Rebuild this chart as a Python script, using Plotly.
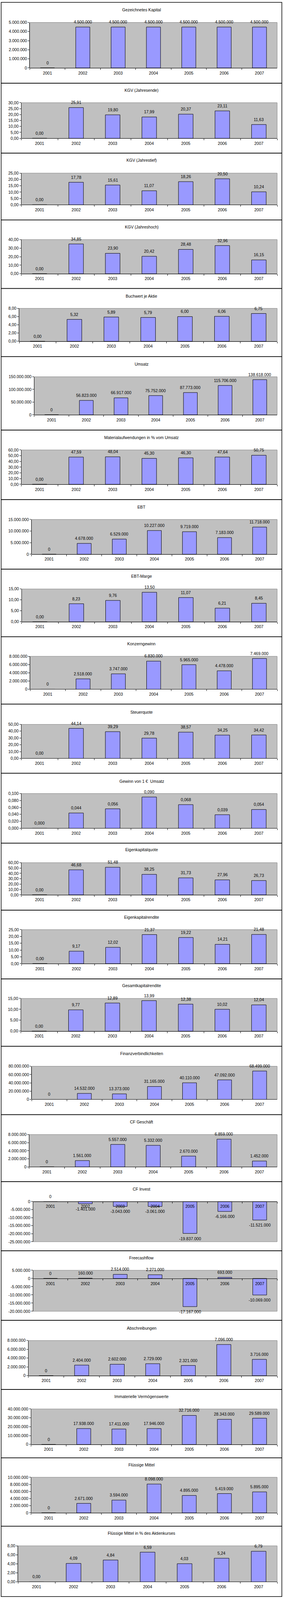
import plotly.graph_objects as go

W, H = 725, 4360

years = ["2001", "2002", "2003", "2004", "2005", "2006", "2007"]

titles = [
    "Gezeichnetes Kapital", "KGV (Jahresende)", "KGV (Jahrestief)", "KGV (Jahreshoch)",
    "Buchwert je Aktie", "Umsatz", "Materialaufwendungen in % vom Umsatz", "EBT",
    "EBT-Marge", "Konzerngewinn", "Steuerquote", "Gewinn von 1 €  Umsatz",
    "Eigenkapitalquote", "Eigenkapitalrendite", "Gesamtkapitalrendite",
    "Finanzverbindlichkeiten", "CF Geschäft", "CF Invest", "Freecashflow",
    "Abschreibungen", "Immaterielle Vermögenswerte", "Flüssige Mittel",
    "Flüssige Mittel in % des Aktienkurses",
]

gezeichnetes_kapital = [0, 4500000, 4500000, 4500000, 4500000, 4500000, 4500000]
kgv_jahresende = [0.00, 25.91, 19.80, 17.99, 20.37, 23.11, 11.63]
kgv_jahrestief = [0.00, 17.78, 15.61, 11.07, 18.26, 20.50, 10.24]
kgv_jahreshoch = [0.00, 34.85, 23.90, 20.42, 28.48, 32.96, 16.15]
buchwert_je_aktie = [0.00, 5.32, 5.89, 5.79, 6.00, 6.06, 6.75]
umsatz = [0, 56823000, 66917000, 75752000, 87773000, 115706000, 138618000]
material_pct = [0.00, 47.59, 48.04, 45.30, 46.30, 47.64, 50.75]
ebt = [0, 4678000, 6529000, 10227000, 9719000, 7183000, 11718000]
ebt_marge = [0.00, 8.23, 9.76, 13.50, 11.07, 6.21, 8.45]
konzerngewinn = [0, 2518000, 3747000, 6830000, 5965000, 4478000, 7469000]
steuerquote = [0.00, 44.14, 39.29, 29.78, 38.57, 34.25, 34.42]
gewinn_je_euro = [0.000, 0.044, 0.056, 0.090, 0.068, 0.039, 0.054]
eigenkapitalquote = [0.00, 46.68, 51.48, 38.25, 31.73, 27.96, 26.73]
eigenkapitalrendite = [0.00, 9.17, 12.02, 21.37, 19.22, 14.21, 21.48]
gesamtkapitalrendite = [0.00, 9.77, 12.89, 13.99, 12.38, 10.02, 12.04]
finanzverbindlichkeiten = [0, 14532000, 13373000, 31165000, 40110000, 47092000, 68499000]
cf_geschaeft = [0, 1561000, 5557000, 5332000, 2670000, 6859000, 1452000]
cf_invest = [0, -1401000, -3043000, -3061000, -19837000, -6166000, -11521000]
freecashflow = [0, 160000, 2514000, 2271000, -17167000, 693000, -10069000]
abschreibungen = [0, 2404000, 2602000, 2729000, 2321000, 7096000, 3716000]
immaterielle = [0, 17938000, 17411000, 17946000, 32716000, 28343000, 29589000]
fluessige_mittel = [0, 2671000, 3594000, 8098000, 4895000, 5419000, 5895000]
fluessige_pct = [0.00, 4.09, 4.84, 6.59, 4.03, 5.24, 6.79]

series = [
    gezeichnetes_kapital, kgv_jahresende, kgv_jahrestief, kgv_jahreshoch,
    buchwert_je_aktie, umsatz, material_pct, ebt, ebt_marge, konzerngewinn,
    steuerquote, gewinn_je_euro, eigenkapitalquote, eigenkapitalrendite,
    gesamtkapitalrendite, finanzverbindlichkeiten, cf_geschaeft, cf_invest,
    freecashflow, abschreibungen, immaterielle, fluessige_mittel, fluessige_pct,
]

# axis scales: (min, max, step, decimals)
axis_scales = [
    (0, 5000000, 1000000, 0), (0, 30, 5, 2), (0, 25, 5, 2), (0, 40, 10, 2),
    (0, 8, 2, 2), (0, 150000000, 50000000, 0), (0, 60, 10, 2), (0, 15000000, 5000000, 0),
    (0, 15, 5, 2), (0, 8000000, 2000000, 0), (0, 50, 10, 2), (0, 0.1, 0.02, 3),
    (0, 60, 10, 2), (0, 25, 5, 2), (0, 15, 5, 2), (0, 80000000, 20000000, 0),
    (0, 8000000, 2000000, 0), (-25000000, 0, 5000000, 0), (-20000000, 5000000, 5000000, 0),
    (0, 8000000, 2000000, 0), (0, 40000000, 10000000, 0), (0, 10000000, 2000000, 0),
    (0, 8, 2, 2),
]

# layout geometry in reference pixels (725 x 4360 design):
# (panel_top, panel_bottom, title_y, plot_top, plot_bottom, plot_left)
geometry = [
    (0, 221, 20, 55, 179.3, 76.3),
    (221, 412, 240, 274.3, 371.7, 54.6),
    (412, 595, 431.3, 466.7, 553.3, 54.6),
    (595, 782, 614.3, 648.3, 741.7, 54.6),
    (782, 968, 802.3, 836.3, 926.3, 49),
    (968, 1169, 988.3, 1023.3, 1127.3, 87.8),
    (1169, 1359, 1189.3, 1223.3, 1317.3, 54.6),
    (1359, 1549, 1379, 1413.3, 1508.3, 80.9),
    (1549, 1734, 1568.3, 1603.3, 1692.7, 55.5),
    (1734, 1918, 1753.3, 1787.3, 1877.3, 77.2),
    (1918, 2107, 1939.3, 1973.3, 2066.3, 54.6),
    (2107, 2298, 2128.3, 2162.3, 2257.3, 54.6),
    (2298, 2481, 2316, 2351.3, 2439.3, 54.6),
    (2481, 2669, 2500.3, 2534.3, 2627.3, 55.5),
    (2669, 2853, 2687.3, 2722.3, 2811.7, 53.6),
    (2853, 3040, 2873.3, 2907.7, 2998.3, 81.4),
    (3040, 3223, 3059.3, 3094.3, 3182.7, 74.9),
    (3223, 3412, 3243.3, 3277.3, 3387.3, 84.6),
    (3412, 3602, 3431, 3465.3, 3577.3, 84.6),
    (3602, 3791, 3623.3, 3657.3, 3753.3, 72.6),
    (3791, 3978, 3810.3, 3844.3, 3941.3, 79.5),
    (3978, 4165, 3997.3, 4031, 4128.3, 79.5),
    (4165, 4357, 4184.3, 4218.3, 4316.7, 46.2),
]
PLOT_RIGHT = 710

FONT = "Liberation Sans, Arial, sans-serif"
FS = 10.5
BAR_COLOR = "#9999FF"
BG = "#C0C0C0"


def de_fmt(v, dec):
    s = f"{abs(v):,.{dec}f}"
    s = s.replace(",", "X").replace(".", ",").replace("X", ".")
    return ("-" if v < 0 else "") + s


fig = go.Figure()
layout = dict(
    autosize=True,
    margin=dict(l=0, r=0, t=0, b=0, pad=0),
    paper_bgcolor="white", plot_bgcolor=BG,
    font=dict(family=FONT, size=FS, color="black"),
    showlegend=False, bargap=0.6,
)
shapes = []
annotations = []

for i, (title, vals, (ymin, ymax, step, dec), geo) in enumerate(
        zip(titles, series, axis_scales, geometry)):
    s = "" if i == 0 else str(i + 1)
    ptop, pbot, ty, atop, abot, aleft = geo
    d0 = 1 - abot / H
    d1 = 1 - atop / H
    xpos = d0 + (0 - ymin) / (ymax - ymin) * (d1 - d0)

    fig.add_trace(go.Bar(
        x=years, y=vals, width=0.4,
        marker=dict(color=BAR_COLOR, line=dict(color="black", width=1)),
        xaxis="x" + s, yaxis="y" + s, hoverinfo="skip",
    ))

    n = round((ymax - ymin) / step)
    tv = [ymin + k * step for k in range(n + 1)]
    layout["xaxis" + s] = dict(
        domain=[aleft / W, PLOT_RIGHT / W], anchor="free", position=xpos,
        type="category", range=[-0.5, 6.5], tickson="boundaries",
        ticks="outside", ticklen=4, tickcolor="black",
        showline=True, linecolor="black", linewidth=1, showgrid=False,
        tickfont=dict(family=FONT, size=FS), ticklabelstandoff=3, fixedrange=True,
    )
    layout["yaxis" + s] = dict(
        domain=[d0, d1], anchor="x" + s, range=[ymin, ymax],
        tickvals=tv, ticktext=[de_fmt(t, dec) for t in tv],
        ticks="outside", ticklen=4, tickcolor="black",
        showline=True, linecolor="black", linewidth=1,
        showgrid=False, zeroline=False,
        tickfont=dict(family=FONT, size=FS), fixedrange=True,
    )

    # plot-area border
    shapes.append(dict(type="rect", xref="x" + s + " domain", yref="y" + s + " domain",
                       x0=0, x1=1, y0=0, y1=1, line=dict(color="#808080", width=1),
                       layer="below"))
    # chart frame
    shapes.append(dict(type="rect", xref="paper", yref="paper",
                       x0=3 / W, x1=722 / W, y0=1 - pbot / H, y1=1 - ptop / H,
                       line=dict(color="black", width=1.5)))
    # chart title
    annotations.append(dict(text=title, xref="paper", yref="paper", x=0.5,
                            y=1 - ty / H, showarrow=False, xanchor="center",
                            yanchor="middle", font=dict(family=FONT, size=FS)))
    # data labels (category axis positions are indices 0..6)
    for k, v in enumerate(vals):
        annotations.append(dict(text=de_fmt(v, dec), x=k, y=v,
                                xref="x" + s, yref="y" + s, showarrow=False,
                                xanchor="center", yanchor="middle",
                                yshift=13 if v >= 0 else -13,
                                font=dict(family=FONT, size=FS)))

layout["shapes"] = shapes
layout["annotations"] = annotations
fig.update_layout(**layout)

# The figure fills the browser viewport exactly (the viewport may be shorter than 4360 px).
fig.write_html("out.html", default_width="100%; position:absolute; top:0; left:0",
               default_height="100vh",
               config={"responsive": True, "displayModeBar": False})
